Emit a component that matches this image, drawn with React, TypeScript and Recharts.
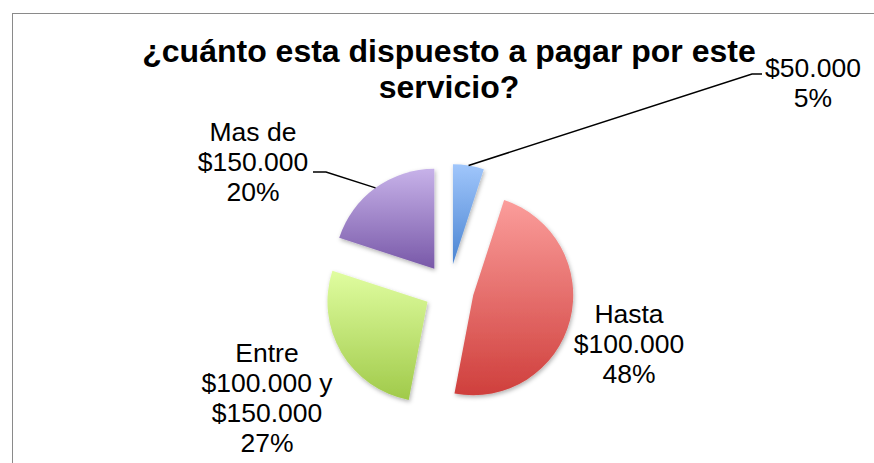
import { PieChart, Pie, Cell } from "recharts";

// answers to the survey question
const categories = [
  "$50.000",
  "Hasta\n$100.000",
  "Entre\n$100.000 y\n$150.000",
  "Mas de\n$150.000",
];
const shares = [5, 48, 27, 20];

const gradientTop = ["#a0c6fb", "#fb9d9b", "#e0fda0", "#c7b2e9"];
const gradientBottom = ["#4a84d2", "#cf3f3c", "#a0ca4a", "#7858a8"];

const data = categories.map((name, i) => ({ name, value: shares[i] }));
const total = shares.reduce((a, b) => a + b, 0);

const W = 874;
const H = 463;
const CX = 449;
const CY = 289;
const R = 100;
const EXPLODE = 25;
const RAD = Math.PI / 180;
const FONT = "'Liberation Sans', Arial, sans-serif";

// recharts angles: 0 = 3 o'clock, counter clockwise. slices run clockwise from 12
const midAngles = shares.map((v, i) => {
  const before = shares.slice(0, i).reduce((a, b) => a + b, 0);
  return 90 - (360 * (before + v / 2)) / total;
});

// where each label sits, relative to the pie center
const labelLayout: { dx: number; dy: number; line?: number[][] }[] = [
  { dx: 364, dy: -212, line: [[303, -215], [313, -215]] },
  { dx: 180, dy: 34 },
  { dx: -182, dy: 73 },
  { dx: -196, dy: -148, line: [[-123, -117], [-136, -117]] },
];

const renderLabel = (slice: number) => (props: any) => {
  const idx = props.index ?? categories.indexOf(props.name);
  if (idx !== slice) return null;
  const lay = labelLayout[slice];
  const lines = [...categories[slice].split("\n"), `${Math.round((shares[slice] / total) * 100)}%`];
  const sx = props.cx + props.outerRadius * Math.cos(-props.midAngle * RAD);
  const sy = props.cy + props.outerRadius * Math.sin(-props.midAngle * RAD);
  return (
    <g>
      {lay.line && (
        <polyline
          points={[[sx, sy], ...lay.line.map(([x, y]) => [CX + x, CY + y])]
            .map((p) => p.join(","))
            .join(" ")}
          fill="none"
          stroke="#000"
          strokeWidth={1.5}
        />
      )}
      <text
        x={CX + lay.dx}
        y={CY + lay.dy}
        textAnchor="middle"
        fontSize={26.5}
        fontFamily={FONT}
        fill="#000"
      >
        {lines.map((l, k) => (
          <tspan key={k} x={CX + lay.dx} dy={k === 0 ? 0 : 30}>
            {l}
          </tspan>
        ))}
      </text>
    </g>
  );
};

export default function App() {
  return (
    <div style={{ position: "absolute", left: 0, top: 0, width: W, height: H, overflow: "hidden", background: "#fff" }}>
      <div
        style={{
          position: "absolute",
          left: 12,
          top: 13,
          width: W + 40,
          height: H + 40,
          borderTop: "1px solid #8a8a8a",
          borderLeft: "1px solid #8a8a8a",
        }}
      />
      <PieChart
        width={W}
        height={H}
        margin={{ top: 0, right: 0, bottom: 0, left: 0 }}
        style={{ position: "absolute", left: 0, top: 0 }}
      >
        <defs>
          {gradientTop.map((c, i) => (
            <linearGradient key={i} id={`grad${i}`} x1="0" y1="0" x2="0" y2="1">
              <stop offset="0%" stopColor={c} />
              <stop offset="100%" stopColor={gradientBottom[i]} />
            </linearGradient>
          ))}
          <filter id="shadow" x="-20%" y="-20%" width="140%" height="140%">
            <feDropShadow dx="1" dy="2" stdDeviation="2" floodColor="#000" floodOpacity="0.3" />
          </filter>
        </defs>
        {categories.map((_, i) => (
          <Pie
            key={i}
            data={data}
            dataKey="value"
            nameKey="name"
            cx={CX + EXPLODE * Math.cos(-midAngles[i] * RAD)}
            cy={CY + EXPLODE * Math.sin(-midAngles[i] * RAD)}
            outerRadius={R}
            startAngle={90}
            endAngle={-270}
            stroke="none"
            label={renderLabel(i)}
            labelLine={false}
            isAnimationActive={false}
          >
            {data.map((_, j) => (
              <Cell
                key={j}
                fill={j === i ? `url(#grad${j})` : "none"}
                stroke="none"
                filter={j === i ? "url(#shadow)" : undefined}
              />
            ))}
          </Pie>
        ))}
      </PieChart>
      <svg width={W} height={H} style={{ position: "absolute", left: 0, top: 0, pointerEvents: "none" }}>
        <text x={449} y={62} textAnchor="middle" fontSize={32} fontWeight="bold" fontFamily={FONT} fill="#000">
          ¿cuánto esta dispuesto a pagar por este
        </text>
        <text x={449} y={98} textAnchor="middle" fontSize={32} fontWeight="bold" fontFamily={FONT} fill="#000">
          servicio?
        </text>
      </svg>
    </div>
  );
}
